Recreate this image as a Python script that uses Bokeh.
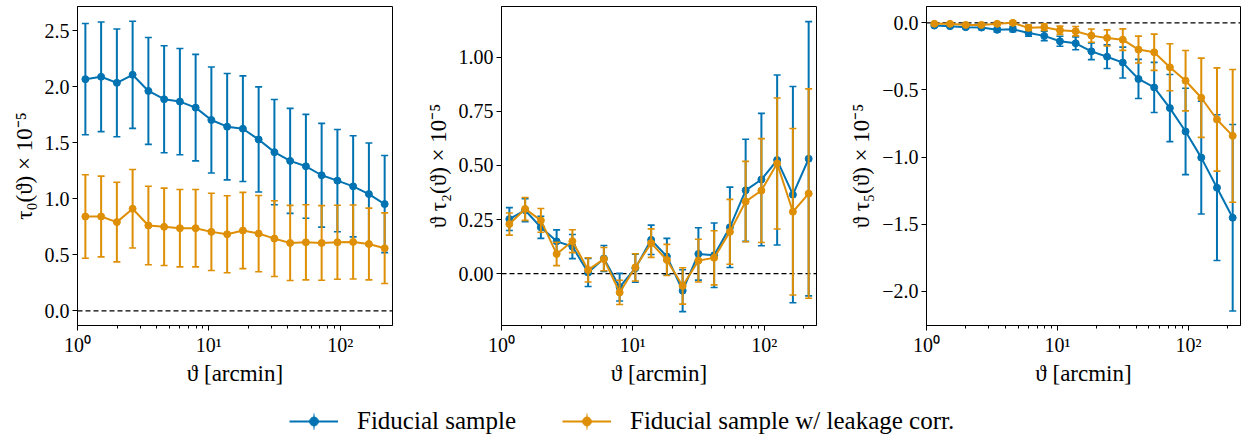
from bokeh.plotting import figure
from bokeh.models import (ColumnDataSource, Range1d, FixedTicker, CustomJSTickFormatter,
                          Span, Legend, LegendItem)
from bokeh.layouts import row, column
from bokeh.embed import file_html
from bokeh.resources import INLINE

# angular bin centres [arcmin]
theta = [1.148, 1.513, 1.994, 2.628, 3.464, 4.565, 6.017, 7.930, 10.45, 13.78,
         18.16, 23.93, 31.54, 41.57, 54.79, 72.21, 95.17, 125.4, 165.3, 217.9]

# tau_0 x 1e-5
tau0_fid = [2.067, 2.088, 2.034, 2.106, 1.962, 1.888, 1.867, 1.813, 1.703, 1.643,
            1.625, 1.529, 1.416, 1.338, 1.290, 1.210, 1.162, 1.111, 1.042, 0.953]
tau0_fid_err = [0.496, 0.489, 0.481, 0.478, 0.477, 0.477, 0.474, 0.475, 0.473, 0.474,
                0.471, 0.469, 0.469, 0.468, 0.463, 0.463, 0.456, 0.451, 0.456, 0.433]
tau0_corr = [0.842, 0.842, 0.792, 0.911, 0.762, 0.750, 0.738, 0.738, 0.705, 0.684,
             0.717, 0.690, 0.645, 0.606, 0.612, 0.606, 0.612, 0.615, 0.597, 0.559]
tau0_corr_err = [0.372, 0.360, 0.355, 0.350, 0.350, 0.345, 0.345, 0.345, 0.345, 0.343,
                 0.340, 0.340, 0.338, 0.335, 0.335, 0.333, 0.330, 0.330, 0.320, 0.315]

# theta * tau_2 x 1e-5
tau2_fid = [0.252, 0.293, 0.214, 0.149, 0.125, 0.005, 0.070, -0.063, 0.025, 0.156,
            0.079, -0.079, 0.091, 0.085, 0.214, 0.385, 0.435, 0.525, 0.365, 0.531]
tau2_fid_err = [0.053, 0.053, 0.051, 0.053, 0.056, 0.065, 0.060, 0.064, 0.065, 0.068,
                0.084, 0.097, 0.121, 0.149, 0.186, 0.236, 0.306, 0.393, 0.500, 0.634]
tau2_corr = [0.229, 0.299, 0.246, 0.091, 0.150, 0.017, 0.067, -0.087, 0.029, 0.141,
             0.063, -0.057, 0.060, 0.073, 0.193, 0.333, 0.384, 0.509, 0.286, 0.370]
tau2_corr_err = [0.051, 0.053, 0.055, 0.054, 0.053, 0.056, 0.054, 0.056, 0.063, 0.066,
                 0.072, 0.084, 0.099, 0.125, 0.150, 0.186, 0.240, 0.303, 0.385, 0.484]

# theta * tau_5 x 1e-5
tau5_fid = [-0.020, -0.025, -0.032, -0.035, -0.052, -0.047, -0.075, -0.097, -0.137, -0.152,
            -0.212, -0.252, -0.296, -0.418, -0.481, -0.635, -0.809, -1.004, -1.228, -1.452]
tau5_fid_err = [0.010, 0.010, 0.012, 0.014, 0.015, 0.018, 0.025, 0.035, 0.037, 0.048,
                0.062, 0.088, 0.115, 0.146, 0.187, 0.250, 0.322, 0.420, 0.543, 0.695]
tau5_corr = [-0.007, -0.007, -0.015, -0.015, -0.007, 0.000, -0.037, -0.032, -0.055, -0.062,
             -0.095, -0.112, -0.125, -0.199, -0.219, -0.331, -0.431, -0.558, -0.720, -0.842]
tau5_corr_err = [0.008, 0.008, 0.010, 0.010, 0.012, 0.014, 0.020, 0.025, 0.031, 0.035,
                 0.049, 0.060, 0.080, 0.100, 0.135, 0.175, 0.225, 0.295, 0.385, 0.495]

x_ticks = [1, 10, 100]
x_minor = [2, 3, 4, 5, 6, 7, 8, 9, 20, 30, 40, 50, 60, 70, 80, 90, 200]
y_ticks_0 = [0.0, 0.5, 1.0, 1.5, 2.0, 2.5]
y_ticks_2 = [0.0, 0.25, 0.5, 0.75, 1.0]
y_ticks_5 = [-2.0, -1.5, -1.0, -0.5, 0.0]

labels = ["Fiducial sample", "Fiducial sample w/ leakage corr."]
BLUE = "#0173b2"
ORANGE = "#de8f05"
FONT = "Liberation Serif"
AXFONT = "'Liberation Serif', serif"

XFMT = CustomJSTickFormatter(code="""
const s = {0: '\u2070', 1: '\u00b9', 2: '\u00b2', 3: '\u00b3'};
return '10' + s[Math.round(Math.log10(tick))];
""")


def yfmt(d):
    return CustomJSTickFormatter(code="return tick.toFixed(%d).replace('-', '\u2212');" % d)


def panel(ylabel, yticks, ydig, yr, series, left, fw, right):
    p = figure(frame_width=fw, frame_height=319, x_axis_type="log",
               x_range=Range1d(1, 250), y_range=Range1d(*yr),
               toolbar_location=None, output_backend="svg",
               min_border_left=left, min_border_right=right,
               min_border_top=6, min_border_bottom=60)
    p.grid.visible = False
    p.outline_line_color = "black"
    p.outline_line_width = 1
    p.outline_line_alpha = 1
    p.background_fill_color = "white"
    p.border_fill_color = "white"
    p.add_layout(Span(location=0, dimension="width", line_color="black",
                      line_dash="5 3", line_width=1.2, level="underlay"))
    for y, e, c in series:
        lo = [a - b for a, b in zip(y, e)]
        hi = [a + b for a, b in zip(y, e)]
        src = ColumnDataSource(dict(x=theta, y=y, lo=lo, hi=hi))
        p.segment(x0="x", y0="lo", x1="x", y1="hi", source=src, line_color=c, line_width=2)
        p.scatter("x", "hi", source=src, marker="dash", size=7, line_color=c, line_width=1.6)
        p.scatter("x", "lo", source=src, marker="dash", size=7, line_color=c, line_width=1.6)
        p.line("x", "y", source=src, line_color=c, line_width=2)
        p.scatter("x", "y", source=src, size=7, fill_color=c, line_color=c, line_width=1)
    p.xaxis.ticker = FixedTicker(ticks=x_ticks, minor_ticks=x_minor)
    p.xaxis.formatter = XFMT
    p.yaxis.ticker = FixedTicker(ticks=yticks)
    p.yaxis.formatter = yfmt(ydig)
    p.xaxis.axis_label = "\u03d1 [arcmin]"
    p.yaxis.axis_label = ylabel
    for ax in (p.xaxis[0], p.yaxis[0]):
        ax.axis_line_color = "black"
        ax.major_tick_line_color = "black"
        ax.minor_tick_line_color = "black"
        ax.major_tick_out = 5
        ax.major_tick_in = 0
        ax.minor_tick_out = 3
        ax.minor_tick_in = 0
        ax.major_label_text_font = AXFONT
        ax.major_label_text_font_size = "20px"
        ax.major_label_text_color = "black"
        ax.axis_label_text_font = AXFONT
        ax.axis_label_text_font_size = "23px"
        ax.axis_label_text_font_style = "normal"
        ax.axis_label_text_color = "black"
        ax.major_label_standoff = 3
    p.xaxis.axis_label_standoff = 2
    p.yaxis.axis_label_standoff = 5
    p.yaxis.minor_tick_line_color = None
    return p


p1 = panel("\u03c4\u2080(\u03d1) \u00d7 10\u207b\u2075", y_ticks_0, 1, (-0.13, 2.715),
           [(tau0_fid, tau0_fid_err, BLUE), (tau0_corr, tau0_corr_err, ORANGE)], 77, 315, 20)
p2 = panel("\u03d1 \u03c4\u2082(\u03d1) \u00d7 10\u207b\u2075", y_ticks_2, 2, (-0.24, 1.235),
           [(tau2_fid, tau2_fid_err, BLUE), (tau2_corr, tau2_corr_err, ORANGE)], 89, 315, 20)
p3 = panel("\u03d1 \u03c4\u2085(\u03d1) \u00d7 10\u207b\u2075", y_ticks_5, 1, (-2.255, 0.122),
           [(tau5_fid, tau5_fid_err, BLUE), (tau5_corr, tau5_corr_err, ORANGE)], 90, 314, 6)

# legend strip (handle renderers sit outside the visible range)
lf = figure(width=1246, height=49, x_range=Range1d(0, 1), y_range=Range1d(0, 1),
            toolbar_location=None, output_backend="svg", min_border=0,
            x_axis_location=None, y_axis_location=None)
lf.outline_line_color = None
lf.grid.visible = False
items = []
for lab, c in zip(labels, [BLUE, ORANGE]):
    ln = lf.line(x=[0.4, 0.6], y=[-50, -50], line_color=c, line_width=2)
    bar = lf.ellipse(x=[0.5], y=[-50], width=2.2, height=24, width_units="screen",
                     height_units="screen", fill_color=c, line_color=None)
    dot = lf.scatter(x=[0.5], y=[-50], size=8, fill_color=c, line_color=c)
    items.append(LegendItem(label=lab, renderers=[ln, bar, dot]))
legend = Legend(items=items, orientation="horizontal", location=(289, 2),
                glyph_width=49, glyph_height=22, label_standoff=19, spacing=46,
                padding=0, margin=0, border_line_color=None, background_fill_alpha=0,
                label_text_font=FONT, label_text_font_size="25px", label_text_color="black")
lf.add_layout(legend)

layout = column(row(p1, p2, p3), lf)
open("out.html", "w").write(file_html(layout, INLINE))
